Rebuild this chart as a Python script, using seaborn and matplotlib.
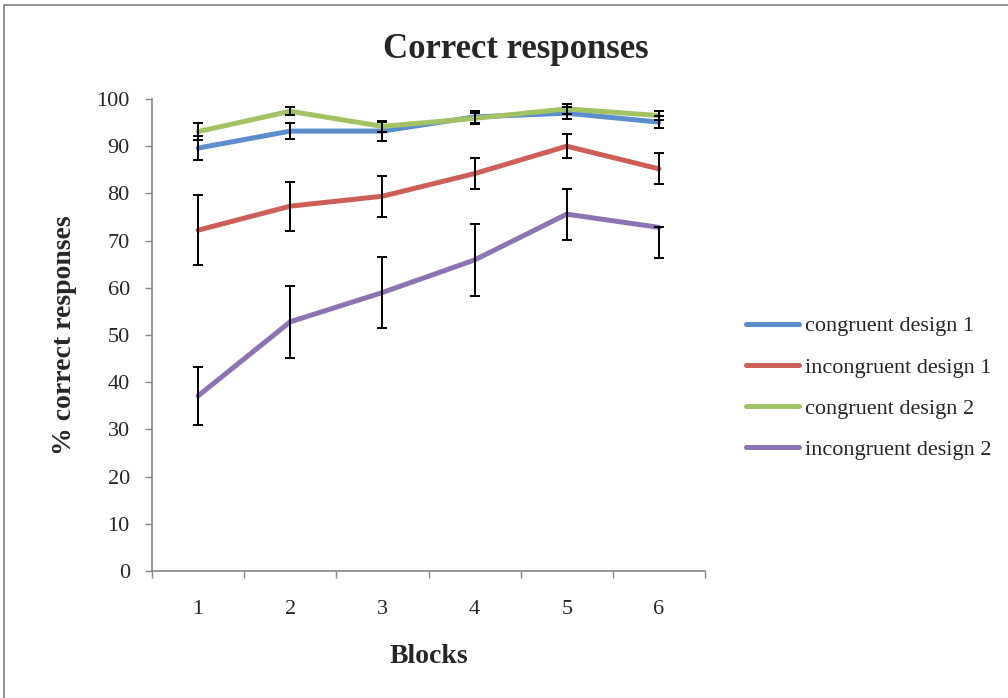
import numpy as np
import pandas as pd
import matplotlib
matplotlib.use('Agg')
import matplotlib.pyplot as plt
from matplotlib.patches import Rectangle
import seaborn as sns

# Data
blocks = [1, 2, 3, 4, 5, 6]
series_names = ['congruent design 1', 'incongruent design 1',
                'congruent design 2', 'incongruent design 2']
cong1 = [89.6, 93.2, 93.2, 96.2, 97.0, 95.1]
incong1 = [72.2, 77.3, 79.4, 84.2, 90.0, 85.2]
cong2 = [93.1, 97.4, 94.2, 95.9, 97.9, 96.5]
incong2 = [37.1, 52.8, 59.0, 65.9, 75.6, 72.8]

cong1_err = [2.5, 1.7, 2.0, 1.3, 1.2, 1.3]
incong1_err = [7.4, 5.2, 4.3, 3.2, 2.6, 3.3]
cong2_err = [1.8, 0.8, 1.1, 1.2, 1.0, 1.0]
incong2_err_lo = [6.2, 7.6, 7.6, 7.6, 5.4, 6.5]
incong2_err_hi = [6.2, 7.6, 7.6, 7.6, 5.4, 0.0]

colors = ['#5A8FCB', '#CD5F58', '#A3C263', '#8C73B3']

df = pd.DataFrame({
    'Blocks': blocks * 4,
    'value': cong1 + incong1 + cong2 + incong2,
    'series': np.repeat(series_names, len(blocks)),
})

sns.set_style('white')
plt.rcParams['font.family'] = ['Liberation Serif', 'DejaVu Serif']

fig = plt.figure(figsize=(10.08, 6.98), dpi=100)
ax = fig.add_axes([152 / 1008, 127 / 698, 553 / 1008, 472 / 698])

# error bars (black)
errs = [(cong1, cong1_err, cong1_err), (incong1, incong1_err, incong1_err),
        (cong2, cong2_err, cong2_err), (incong2, incong2_err_lo, incong2_err_hi)]
for vals, lo, hi in errs:
    ax.errorbar(blocks, vals, yerr=[lo, hi], fmt='none', ecolor='black',
                elinewidth=1.4, capsize=3.8, capthick=1.4, zorder=3)

sns.lineplot(data=df, x='Blocks', y='value', hue='series', hue_order=series_names,
             palette=colors, linewidth=3.6, ax=ax, zorder=2, sort=False)

ax.set_xlim(0.5, 6.5)
ax.set_ylim(0, 100)
ax.set_yticks(range(0, 101, 10))
ax.set_xticks(blocks)
ax.set_xticks(np.arange(0.5, 6.6, 1), minor=True)
ax.tick_params(axis='x', which='major', length=0, pad=21, labelsize=16)
ax.tick_params(axis='x', which='minor', length=5, width=1, color='#868686', direction='out', bottom=True)
ax.tick_params(axis='y', which='major', length=5, width=1, color='#868686', direction='out',
               pad=11, labelsize=16, left=True)

for s in ['top', 'right']:
    ax.spines[s].set_visible(False)
for s in ['left', 'bottom']:
    ax.spines[s].set_color('#868686')
    ax.spines[s].set_linewidth(1.2)

ax.set_xlabel('Blocks', fontsize=20, fontweight='bold', labelpad=18)
ax.set_ylabel('% correct responses', fontsize=20, fontweight='bold', labelpad=14)

fig.text(516 / 1008, 1 - 50 / 698, 'Correct responses', ha='center', va='center',
         fontsize=25, fontweight='bold')

leg = ax.legend(loc='center left', bbox_to_anchor=(1.038, 0.388), frameon=False,
                fontsize=16, handlelength=2.4, labelspacing=0.93, handletextpad=0.25)

# outer chart border
fig.patches.append(Rectangle((4 / 1008, -0.1), 1.2, 1 - 5 / 698 + 0.1, transform=fig.transFigure,
                             fill=False, edgecolor='#8a8a8a', linewidth=1.3))

fig.savefig('out.png', dpi=100)
